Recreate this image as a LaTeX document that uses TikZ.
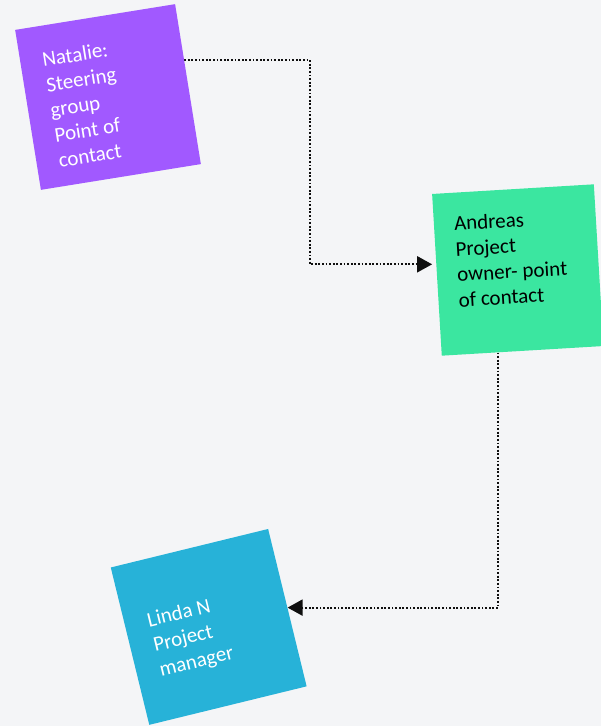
\documentclass[tikz,border=0pt]{standalone}
\usepackage{fontspec}
\setmainfont{Carlito}
\usetikzlibrary{arrows.meta,calc}
\definecolor{canvas}{RGB}{244,245,247}
\definecolor{notepurple}{RGB}{161,89,255}
\definecolor{notegreen}{RGB}{59,230,160}
\definecolor{noteblue}{RGB}{39,178,216}
\definecolor{linkc}{RGB}{15,15,15}
\pgfdeclarelayer{background}
\pgfsetlayers{background,main}
\begin{document}
\begin{tikzpicture}[x=1pt,y=-1pt,
  note/.style={minimum size=162pt, inner sep=0pt, draw=none},
  notetext/.style={anchor=base west, inner sep=0pt, font=\fontsize{21}{25.5}\selectfont},
  link/.style={draw=linkc, line width=2pt, dash pattern=on 1.8pt off 1.8pt,
    -{Triangle[length=15pt,width=16pt]}}]
\clip (0,0) rectangle (601,726);
\begin{pgfonlayer}{background}
  \fill[canvas] (0,0) rectangle (601,726);
\end{pgfonlayer}

% Steering group contact
\begin{scope}[shift={(108,97)}, rotate=9.15, transform shape]
  \node[note, fill=notepurple] (nat) at (0,0) {};
  \node[notetext, text=white] (nattxt) at (-59,-40)
    {\parbox[t]{140pt}{\raggedright Natalie:\\Steering\\group\\Point of\\contact}};
\end{scope}

% Project owner
\begin{scope}[shift={(517.8,270)}, rotate=3.42, transform shape]
  \node[note, fill=notegreen] (and) at (0,0) {};
  \node[notetext, text=black] (andtxt) at (-61,-43)
    {\parbox[t]{140pt}{\raggedright Andreas\\Project\\owner- point\\of contact}};
\end{scope}

% Project manager
\begin{scope}[shift={(208.7,626.9)}, rotate=13.75, transform shape]
  \node[note, fill=noteblue] (lin) at (0,0) {};
  \node[notetext, text=white] (lintxt) at (-58,-14)
    {\parbox[t]{140pt}{\raggedright Linda N\\Project\\manager}};
\end{scope}

% Connectors
\coordinate (natout) at ($(nat.north east)!0.35!(nat.south east)$);
\coordinate (andin) at ($(and.north west)!0.435!(and.south west)$);
\coordinate (andout) at ($(and.south west)!0.35!(and.south east)$);
\begin{pgfonlayer}{background}
  \draw[link, shorten >=4pt] (natout) -| ($(natout)!0.5!(andin)$) |- (andin);
  \draw[link] (andout) |- (lin.east);
\end{pgfonlayer}
\end{tikzpicture}
\end{document}
